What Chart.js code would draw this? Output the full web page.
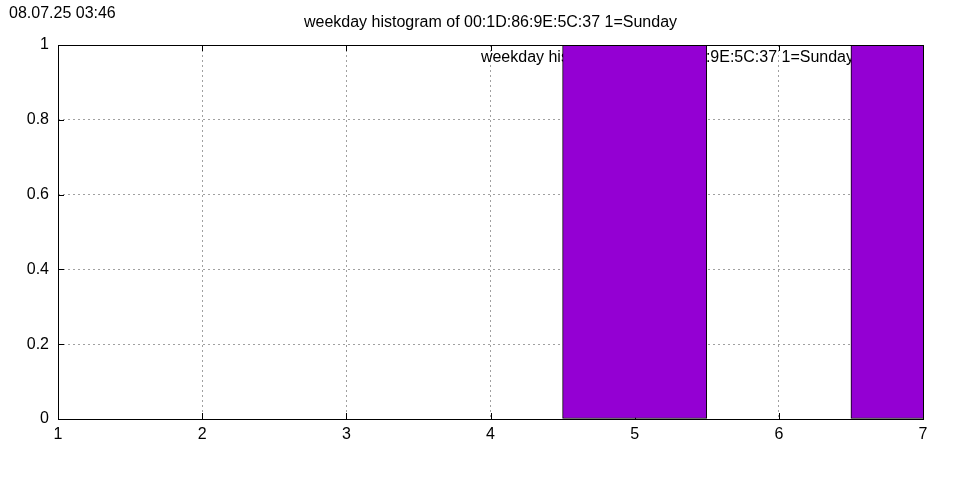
<!DOCTYPE html>
<html>
<head>
<meta charset="utf-8">
<title>weekday histogram</title>
<script src="https://cdn.jsdelivr.net/npm/chart.js@4.4.1/dist/chart.umd.min.js"></script>
<style>
  html, body { margin: 0; padding: 0; background: #ffffff; }
  #wrap { width: 960px; height: 480px; position: relative; }
</style>
</head>
<body>
<div id="wrap"><canvas id="weekdayChart"></canvas></div>
<script>
// ── dados ───────────────────────────────────────────────
const weekdays  = [5, 7];          // dias com contagem (1=Sunday)
const counts    = [1, 1];
const xRange    = [1, 7];
const yRange    = [0, 1];
const titleText = 'weekday histogram of 00:1D:86:9E:5C:37 1=Sunday';
const keyText   = 'weekday histogram of 00:1D:86:9E:5C:37 1=Sunday';
const stampText = '08.07.25 03:46';

const BAR_COLOR  = '#9400d3';
const GRID_COLOR = '#a0a0a0';
const FONT       = "'Liberation Sans', Arial, sans-serif";

// ── plugin: moldura, ticks internos, legenda e textos estilo gnuplot ──
const gnuplotLook = {
  id: 'gnuplotLook',
  beforeDraw(chart) {
    const { ctx, width, height } = chart;
    ctx.save();
    ctx.fillStyle = '#ffffff';
    ctx.fillRect(0, 0, width, height);
    ctx.restore();
  },
  beforeDatasetsDraw(chart) {
    // ticks internos e legenda ficam atrás das barras, como no original
    const { ctx, chartArea: a, scales } = chart;
    const len = 6;
    ctx.save();
    ctx.strokeStyle = '#000000';
    ctx.lineWidth = 1;
    ctx.beginPath();
    scales.x.ticks.forEach((t, i) => {
      const px = Math.round(scales.x.getPixelForTick(i)) + 0.5;
      ctx.moveTo(px, a.bottom); ctx.lineTo(px, a.bottom - len);
      ctx.moveTo(px, a.top);    ctx.lineTo(px, a.top + len);
    });
    scales.y.ticks.forEach((t, i) => {
      const py = Math.round(scales.y.getPixelForTick(i)) + 0.5;
      ctx.moveTo(a.left, py);  ctx.lineTo(a.left + len, py);
      ctx.moveTo(a.right, py); ctx.lineTo(a.right - len, py);
    });
    ctx.stroke();

    ctx.font = '16px ' + FONT;
    ctx.fillStyle = '#000000';
    ctx.textAlign = 'right';
    ctx.textBaseline = 'alphabetic';
    ctx.fillText(keyText, a.right - 69, 62);
    ctx.restore();
  },
  afterDatasetsDraw(chart) {
    const { ctx, chartArea: a } = chart;
    ctx.save();
    ctx.strokeStyle = '#000000';
    ctx.lineWidth = 1;
    ctx.strokeRect(Math.round(a.left) + 0.5, Math.round(a.top) + 0.5,
                   Math.round(a.right - a.left), Math.round(a.bottom - a.top));
    ctx.restore();
  },
  afterDraw(chart) {
    const { ctx, chartArea } = chart;
    ctx.save();
    ctx.fillStyle = '#000000';
    ctx.textBaseline = 'alphabetic';
    ctx.font = '16px ' + FONT;
    ctx.textAlign = 'left';
    ctx.fillText(stampText, 9, 18);
    ctx.textAlign = 'center';
    ctx.fillText(titleText, (chartArea.left + chartArea.right) / 2, 27);
    ctx.restore();
  }
};

const chart = new Chart(document.getElementById('weekdayChart'), {
  type: 'bar',
  data: {
    datasets: [{
      label: keyText,
      data: weekdays.map((d, i) => ({ x: d, y: counts[i] })),
      backgroundColor: BAR_COLOR,
      borderColor: '#000000',
      borderWidth: 1,
      borderSkipped: false,
      barPercentage: 1.0,
      categoryPercentage: 1.0
    }]
  },
  plugins: [gnuplotLook],
  options: {
    responsive: true,
    maintainAspectRatio: false,
    animation: false,
    layout: { padding: { left: 0, right: 37, top: 45, bottom: 0 } },
    plugins: {
      legend:  { display: false },
      title:   { display: false },
      tooltip: { enabled: false }
    },
    scales: {
      x: {
        type: 'linear',
        min: xRange[0],
        max: xRange[1],
        offset: false,
        grid: {
          color: GRID_COLOR,
          drawTicks: false,
          offset: false
        },
        border: { display: false, dash: [2, 3] },
        ticks: {
          stepSize: 1,
          padding: 6,
          color: '#000000',
          font: { family: FONT, size: 16 }
        },
        afterFit: s => { s.height = 61; }
      },
      y: {
        min: yRange[0],
        max: yRange[1],
        grid: {
          color: GRID_COLOR,
          drawTicks: false
        },
        border: { display: false, dash: [2, 3] },
        ticks: {
          stepSize: 0.2,
          padding: 9,
          color: '#000000',
          font: { family: FONT, size: 16 },
          callback: v => String(Math.round(v * 10) / 10)
        },
        afterFit: s => { s.width = 58; }
      }
    }
  }
});
</script>
</body>
</html>
